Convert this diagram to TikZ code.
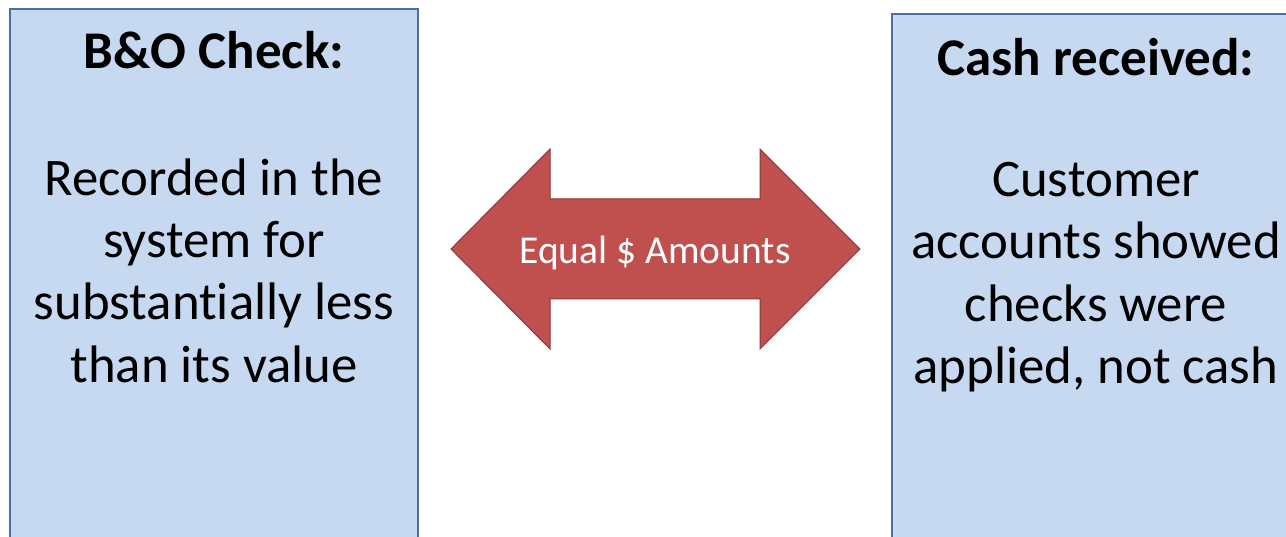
\documentclass[tikz,border=0pt]{standalone}
\usepackage{fontspec}
\setmainfont{Carlito}[Ligatures=NoCommon]
\definecolor{boxfill}{HTML}{C6D9F1}
\definecolor{boxline}{HTML}{4A6FA0}
\definecolor{arrfill}{HTML}{C0504D}
\definecolor{arrline}{HTML}{8C3836}
\begin{document}
\begin{tikzpicture}[x=1pt,y=-1pt,
  panel/.style={draw=boxline,fill=boxfill,line width=1.5pt},
  title/.style={font=\fontsize{53}{60}\selectfont\bfseries,inner sep=0pt},
  body/.style={font=\fontsize{52.8}{62.3}\selectfont,align=center,inner sep=0pt},
  bigarrow/.style={draw=arrline,fill=arrfill,line width=1pt,line join=miter},
  arrtext/.style={font=\fontsize{39.5}{44}\selectfont,text=white,inner sep=0pt}]
\useasboundingbox (0,0) rectangle (1286,537);
\fill[white] (0,0) rectangle (1286,537);
\begin{scope}
\clip (0,0) rectangle (1286,537);
\draw[panel] (10,9) rectangle (418,620);
\draw[panel] (892,14) rectangle (1300,620);
\end{scope}
\node[title] (t1) at (214,50) {B\&O Check:};
\node[body] (b1) at (214,270.5) {Recorded in the\\system for\\substantially less\\than its value};
\node[title] (t2) at (1096,57) {Cash received:};
\node[body] (b2) at (1096,277) {Customer\\accounts showed\\checks were\\applied, not cash};
\draw[bigarrow] (451,249) -- (550,149) -- (550,199) -- (760,199) -- (760,149) -- (860,249) -- (760,349) -- (760,299) -- (550,299) -- (550,349) -- cycle;
\node[arrtext] (eq) at (655,252.5) {Equal \$ Amounts};
\end{tikzpicture}
\end{document}
